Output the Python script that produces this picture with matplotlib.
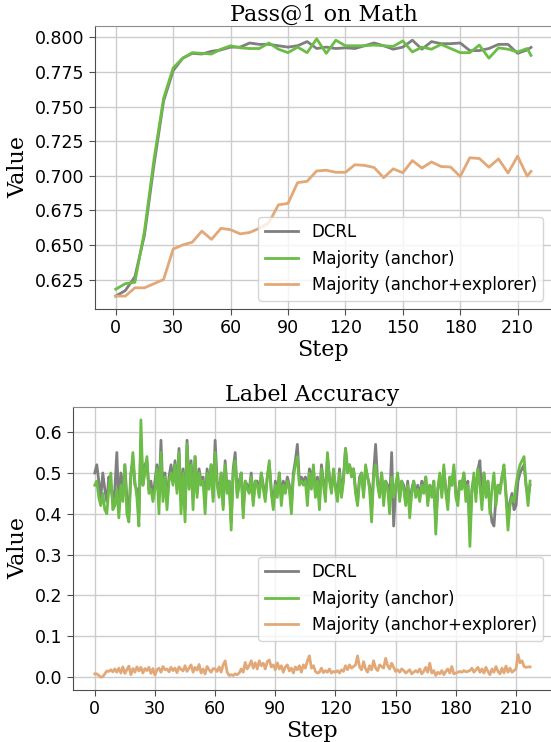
import matplotlib
matplotlib.use("Agg")
import matplotlib.pyplot as plt
from matplotlib.ticker import MultipleLocator
import numpy as np

# ---- Pass@1 on Math (logged every 5 steps, last at 217) ----
steps_top = list(range(0, 220, 5)) + [217]

pass_dcrl = [
    0.613, 0.617, 0.627, 0.657, 0.708, 0.754, 0.776, 0.785, 0.7885, 0.788,
    0.790, 0.791, 0.793, 0.793, 0.796, 0.795, 0.795, 0.794, 0.793, 0.794,
    0.797, 0.792, 0.793, 0.792, 0.7925, 0.792, 0.794, 0.796, 0.794, 0.7915,
    0.793, 0.798, 0.7915, 0.797, 0.7955, 0.7955, 0.796, 0.7905, 0.7905, 0.792,
    0.795, 0.795, 0.7885, 0.791, 0.7928,
]
pass_anchor = [
    0.618, 0.622, 0.623, 0.660, 0.712, 0.756, 0.778, 0.785, 0.789, 0.7885,
    0.788, 0.7915, 0.794, 0.7925, 0.792, 0.792, 0.796, 0.7915, 0.789, 0.793,
    0.789, 0.799, 0.7885, 0.798, 0.794, 0.794, 0.794, 0.7945, 0.794, 0.7935,
    0.7975, 0.7895, 0.793, 0.7915, 0.795, 0.792, 0.789, 0.789, 0.7945, 0.785,
    0.7925, 0.7915, 0.7895, 0.792, 0.787,
]
pass_explorer = [
    0.613, 0.613, 0.619, 0.619, 0.622, 0.625, 0.647, 0.650, 0.652, 0.660,
    0.654, 0.662, 0.661, 0.658, 0.659, 0.662, 0.666, 0.679, 0.680, 0.695,
    0.696, 0.7035, 0.704, 0.7025, 0.7025, 0.708, 0.7075, 0.706, 0.6986, 0.705,
    0.7022, 0.711, 0.7056, 0.710, 0.7067, 0.7063, 0.6995, 0.713, 0.7125, 0.7062,
    0.7122, 0.702, 0.7142, 0.6997, 0.7032,
]

# ---- Label Accuracy (every step, 0..217) ----
steps_bot = np.arange(218)

label_dcrl = [
    0.50, 0.52, 0.48, 0.44, 0.50, 0.46, 0.43, 0.49, 0.47, 0.43,
    0.46, 0.55, 0.41, 0.50, 0.45, 0.52, 0.44, 0.40, 0.50, 0.53,
    0.47, 0.46, 0.40, 0.58, 0.47, 0.52, 0.53, 0.46, 0.48, 0.44,
    0.48, 0.52, 0.44, 0.58, 0.45, 0.50, 0.43, 0.49, 0.52, 0.48,
    0.53, 0.46, 0.56, 0.43, 0.51, 0.41, 0.58, 0.47, 0.53, 0.44,
    0.54, 0.45, 0.51, 0.48, 0.49, 0.43, 0.51, 0.47, 0.52, 0.44,
    0.58, 0.48, 0.45, 0.50, 0.42, 0.53, 0.46, 0.48, 0.38, 0.51,
    0.55, 0.45, 0.48, 0.50, 0.41, 0.48, 0.47, 0.46, 0.50, 0.43,
    0.48, 0.48, 0.45, 0.50, 0.47, 0.44, 0.49, 0.52, 0.46, 0.42,
    0.48, 0.45, 0.50, 0.44, 0.48, 0.46, 0.49, 0.47, 0.42, 0.50,
    0.53, 0.57, 0.48, 0.49, 0.48, 0.49, 0.45, 0.51, 0.49, 0.51,
    0.45, 0.49, 0.43, 0.52, 0.48, 0.45, 0.54, 0.49, 0.46, 0.50,
    0.47, 0.44, 0.51, 0.45, 0.49, 0.56, 0.51, 0.52, 0.50, 0.51,
    0.46, 0.43, 0.49, 0.50, 0.45, 0.51, 0.49, 0.47, 0.41, 0.50,
    0.57, 0.48, 0.45, 0.50, 0.44, 0.48, 0.47, 0.43, 0.55, 0.37,
    0.47, 0.49, 0.44, 0.48, 0.47, 0.43, 0.48, 0.42, 0.46, 0.48,
    0.45, 0.47, 0.44, 0.48, 0.46, 0.49, 0.43, 0.47, 0.45, 0.48,
    0.38, 0.46, 0.49, 0.45, 0.51, 0.46, 0.43, 0.49, 0.47, 0.51,
    0.45, 0.44, 0.48, 0.47, 0.50, 0.45, 0.48, 0.36, 0.46, 0.49,
    0.45, 0.51, 0.53, 0.43, 0.50, 0.45, 0.48, 0.42, 0.38, 0.37,
    0.44, 0.47, 0.46, 0.49, 0.51, 0.45, 0.39, 0.43, 0.45, 0.41,
    0.42, 0.48, 0.50, 0.51, 0.52, 0.47, 0.44, 0.47,
]
label_anchor = [
    0.47, 0.48, 0.44, 0.42, 0.45, 0.41, 0.40, 0.46, 0.50, 0.41,
    0.42, 0.46, 0.39, 0.47, 0.43, 0.52, 0.40, 0.38, 0.49, 0.55,
    0.48, 0.44, 0.37, 0.63, 0.47, 0.50, 0.54, 0.45, 0.46, 0.43,
    0.46, 0.51, 0.40, 0.55, 0.43, 0.49, 0.41, 0.48, 0.50, 0.47,
    0.52, 0.45, 0.55, 0.40, 0.50, 0.38, 0.57, 0.46, 0.52, 0.41,
    0.54, 0.44, 0.50, 0.47, 0.48, 0.40, 0.50, 0.46, 0.52, 0.43,
    0.55, 0.47, 0.44, 0.50, 0.41, 0.52, 0.45, 0.48, 0.36, 0.50,
    0.53, 0.44, 0.47, 0.50, 0.39, 0.48, 0.46, 0.45, 0.49, 0.42,
    0.48, 0.47, 0.44, 0.50, 0.46, 0.43, 0.49, 0.53, 0.45, 0.41,
    0.47, 0.44, 0.50, 0.42, 0.47, 0.45, 0.48, 0.46, 0.40, 0.49,
    0.52, 0.54, 0.47, 0.48, 0.47, 0.48, 0.42, 0.50, 0.46, 0.52,
    0.44, 0.48, 0.41, 0.51, 0.47, 0.43, 0.55, 0.48, 0.45, 0.51,
    0.46, 0.43, 0.50, 0.44, 0.48, 0.56, 0.50, 0.52, 0.49, 0.51,
    0.45, 0.42, 0.48, 0.50, 0.44, 0.52, 0.49, 0.46, 0.38, 0.49,
    0.52, 0.47, 0.44, 0.50, 0.42, 0.48, 0.46, 0.40, 0.49, 0.44,
    0.47, 0.50, 0.43, 0.48, 0.46, 0.42, 0.47, 0.39, 0.45, 0.48,
    0.44, 0.46, 0.43, 0.47, 0.45, 0.49, 0.42, 0.47, 0.44, 0.48,
    0.35, 0.46, 0.50, 0.44, 0.52, 0.45, 0.41, 0.49, 0.47, 0.52,
    0.44, 0.42, 0.48, 0.46, 0.50, 0.43, 0.47, 0.32, 0.45, 0.50,
    0.43, 0.51, 0.47, 0.41, 0.50, 0.44, 0.48, 0.40, 0.46, 0.50,
    0.42, 0.47, 0.45, 0.49, 0.52, 0.44, 0.36, 0.42, 0.44, 0.43,
    0.47, 0.50, 0.52, 0.53, 0.54, 0.47, 0.42, 0.48,
]
label_explorer = [
    0.008, 0.008, 0.004, 0.000, 0.001, 0.008, 0.015, 0.014, 0.018, 0.013,
    0.020, 0.012, 0.022, 0.010, 0.025, 0.009, 0.018, 0.027, 0.006, 0.021,
    0.012, 0.025, 0.015, 0.024, 0.010, 0.021, 0.016, 0.024, 0.009, 0.021,
    0.005, 0.018, 0.022, 0.012, 0.026, 0.018, 0.020, 0.013, 0.024, 0.016,
    0.022, 0.011, 0.025, 0.019, 0.015, 0.028, 0.014, 0.022, 0.030, 0.012,
    0.024, 0.017, 0.031, 0.010, 0.020, 0.008, 0.026, 0.018, 0.012, 0.021,
    0.020, 0.014, 0.025, 0.012, 0.030, 0.040, 0.012, 0.004, 0.006, 0.004,
    0.008, 0.006, 0.010, 0.020, 0.012, 0.036, 0.020, 0.028, 0.040, 0.022,
    0.035, 0.020, 0.040, 0.028, 0.034, 0.020, 0.038, 0.042, 0.025, 0.030,
    0.018, 0.035, 0.020, 0.028, 0.012, 0.025, 0.030, 0.015, 0.022, 0.010,
    0.025, 0.018, 0.028, 0.012, 0.030, 0.022, 0.040, 0.052, 0.022, 0.028,
    0.014, 0.010, 0.012, 0.022, 0.011, 0.016, 0.012, 0.020, 0.010, 0.014,
    0.012, 0.016, 0.010, 0.018, 0.014, 0.028, 0.018, 0.030, 0.022, 0.026,
    0.030, 0.052, 0.025, 0.018, 0.038, 0.020, 0.012, 0.028, 0.018, 0.040,
    0.022, 0.016, 0.030, 0.026, 0.022, 0.046, 0.028, 0.020, 0.034, 0.024,
    0.014, 0.018, 0.012, 0.020, 0.016, 0.010, 0.014, 0.018, 0.008, 0.012,
    0.016, 0.012, 0.020, 0.008, 0.014, 0.024, 0.012, 0.034, 0.010, 0.016,
    0.004, 0.012, 0.008, 0.016, 0.006, 0.014, 0.020, 0.010, 0.026, 0.008,
    0.010, 0.012, 0.014, 0.012, 0.016, 0.013, 0.014, 0.016, 0.022, 0.012,
    0.018, 0.024, 0.012, 0.020, 0.010, 0.024, 0.014, 0.006, 0.020, 0.012,
    0.026, 0.014, 0.008, 0.022, 0.010, 0.027, 0.012, 0.022, 0.012, 0.016,
    0.020, 0.055, 0.035, 0.040, 0.026, 0.024, 0.025, 0.025,
]

labels = ["DCRL", "Majority (anchor)", "Majority (anchor+explorer)"]
colors = ["#7f7f7f", "#6bbd46", "#e2a877"]

SERIF = "DejaVu Serif"


def style(ax, title):
    ax.set_title(title, family=SERIF, fontsize=16, pad=4)
    ax.set_xlabel("Step", family=SERIF, fontsize=16, labelpad=1)
    ax.set_ylabel("Value", family=SERIF, fontsize=16)
    ax.xaxis.set_major_locator(MultipleLocator(30))
    ax.tick_params(labelsize=12.5, color="0.3", length=4)
    ax.grid(True, color="#cccccc", lw=1.0)
    ax.set_axisbelow(True)
    for s in ax.spines.values():
        s.set_color("0.3")
    ax.spines["top"].set_color("0.55")
    ax.spines["right"].set_color("0.55")


fig = plt.figure(figsize=(5.51, 7.42), dpi=100)

ax1 = fig.add_axes([0.1724, 0.5836, 0.829, 0.3814])
for y, lab, c in zip([pass_dcrl, pass_anchor, pass_explorer], labels, colors):
    ax1.plot(steps_top, y, color=c, lw=2, label=lab)
style(ax1, "Pass@1 on Math")
ax1.yaxis.set_major_locator(MultipleLocator(0.025))
ax1.yaxis.set_major_formatter("{x:.3f}")
ax1.legend(loc="lower right", fontsize=12, framealpha=0.8, handlelength=2.0)

ax2 = fig.add_axes([0.1325, 0.0701, 0.869, 0.3814])
for y, lab, c in zip([label_dcrl, label_anchor, label_explorer], labels, colors):
    ax2.plot(steps_bot, y, color=c, lw=2, label=lab)
style(ax2, "Label Accuracy")
ax2.legend(loc="lower right", bbox_to_anchor=(1.0, 0.145), fontsize=12,
           framealpha=0.8, handlelength=2.0)

fig.savefig("out.png", dpi=100)
